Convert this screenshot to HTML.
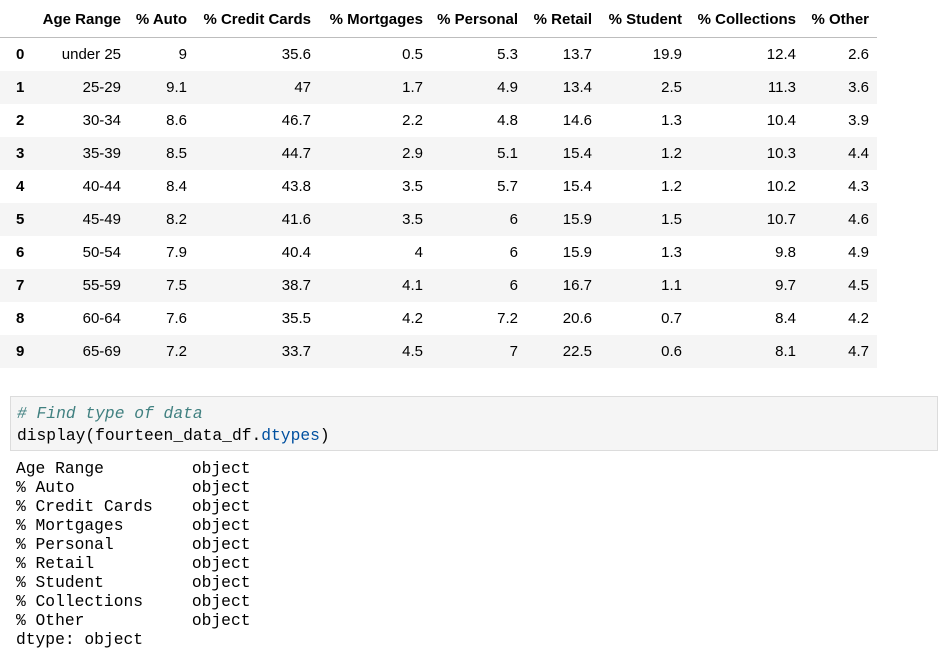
<!DOCTYPE html>
<html><head><meta charset="utf-8">
<style>
body{margin:0;width:938px;height:659px;background:#fff;position:relative;overflow:hidden;font-family:"Liberation Sans",Arial,sans-serif;color:#000}
#tbl{position:absolute;left:0;top:0;width:877px;height:368px}
.row{position:absolute;left:0;width:877px;height:33px}
.cell{position:absolute;font-size:15px;line-height:33px;white-space:nowrap;text-align:right}
.hdr{font-weight:bold;line-height:39px}
.idx{font-weight:bold;text-align:left}
#code{position:absolute;left:10px;top:396px;width:928px;height:55px;background:#f5f5f5;border:1px solid #dcdcdc;box-sizing:border-box}
.mono{font-family:"Liberation Mono","DejaVu Sans Mono",monospace;font-size:16.3px;white-space:pre;position:absolute}
</style></head><body>
<div id="tbl"></div>
<div id="code">
<div class="mono" style="left:6px;top:6px;line-height:22px"><span style="color:#408080;font-style:italic"># Find type of data</span>
display(fourteen_data_df.<span style="color:#0050a0">dtypes</span>)</div>
</div>
<div class="mono" style="left:16px;top:459px;line-height:19px">Age Range         object
% Auto            object
% Credit Cards    object
% Mortgages       object
% Personal        object
% Retail          object
% Student         object
% Collections     object
% Other           object
dtype: object</div>
<script>
const headers=["Age Range","% Auto","% Credit Cards","% Mortgages","% Personal","% Retail","% Student","% Collections","% Other"];
const ages=["under 25","25-29","30-34","35-39","40-44","45-49","50-54","55-59","60-64","65-69"];
const auto=["9","9.1","8.6","8.5","8.4","8.2","7.9","7.5","7.6","7.2"];
const credit=["35.6","47","46.7","44.7","43.8","41.6","40.4","38.7","35.5","33.7"];
const mort=["0.5","1.7","2.2","2.9","3.5","3.5","4","4.1","4.2","4.5"];
const pers=["5.3","4.9","4.8","5.1","5.7","6","6","6","7.2","7"];
const retail=["13.7","13.4","14.6","15.4","15.4","15.9","15.9","16.7","20.6","22.5"];
const student=["19.9","2.5","1.3","1.2","1.2","1.5","1.3","1.1","0.7","0.6"];
const coll=["12.4","11.3","10.4","10.3","10.2","10.7","9.8","9.7","8.4","8.1"];
const other=["2.6","3.6","3.9","4.4","4.3","4.6","4.9","4.5","4.2","4.7"];
const cols=[ages,auto,credit,mort,pers,retail,student,coll,other];
const rightEdges=[121,187,311,423,518,592,682,796,869];
const tbl=document.getElementById('tbl');
const hr=document.createElement('div');
hr.className='row';hr.style.top='0px';hr.style.height='37px';hr.style.borderBottom='1px solid #bdbdbd';


tbl.appendChild(hr);
headers.forEach((h,i)=>{
 const c=document.createElement('div');c.className='cell hdr';c.textContent=h;
 c.style.right=(877-rightEdges[i])+'px';c.style.top='0px';
 
 
 hr.appendChild(c);
});
ages.forEach((a,r)=>{
 const row=document.createElement('div');row.className='row';
 row.style.top=(38+r*33)+'px';
 if(r%2===1)row.style.background='#f5f5f5';
 
 
 tbl.appendChild(row);
 const ix=document.createElement('div');ix.className='cell idx';ix.style.left='16px';ix.textContent=r;
 
 
 row.appendChild(ix);
 cols.forEach((col,i)=>{
  const c=document.createElement('div');c.className='cell';c.textContent=col[r];
  c.style.right=(877-rightEdges[i])+'px';
  
  
  row.appendChild(c);
 });
});
</script>
</body></html>
